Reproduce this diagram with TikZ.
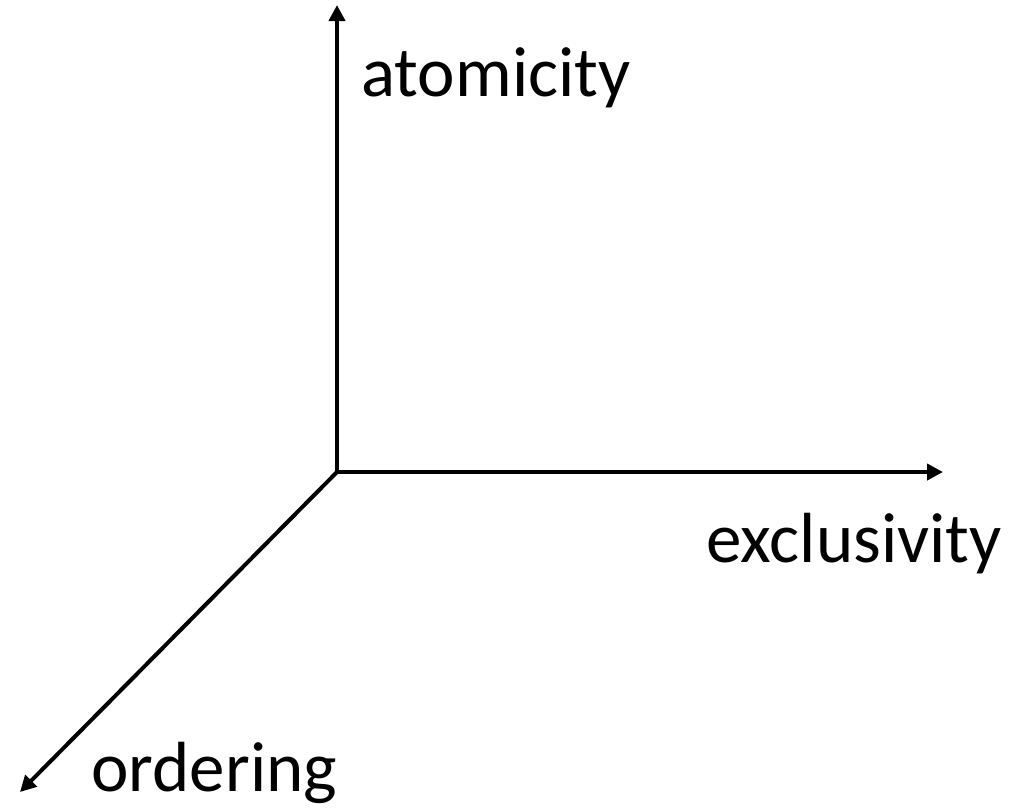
\documentclass[tikz,border=0pt]{standalone}
\usepackage{fontspec}
\setmainfont{Carlito}
\usetikzlibrary{arrows.meta,positioning}

\begin{document}
\begin{tikzpicture}[x=0.5pt,y=-0.5pt,>={Triangle[length=8pt,width=8pt]},font=\fontsize{35.5pt}{40pt}\selectfont]
\tikzset{axis/.style={->,line width=2pt,black},lbl/.style={inner sep=0pt,anchor=base west}}
\useasboundingbox (0,0) rectangle (1020,811);
\coordinate (o) at (337,472);
\coordinate (up) at (337,5);
\coordinate (rt) at (943,472);
\coordinate (dl) at (20,792);
\draw[axis] (o) -- (up);
\draw[axis] (o) -- (rt);
\draw[axis] (o) -- (dl);
\node[lbl] (atom) at (361,96) {atomicity};
\node[lbl] (excl) at (706,562) {exclusivity};
\node[lbl] (ord) at (91,791) {ordering};
\end{tikzpicture}
\end{document}
